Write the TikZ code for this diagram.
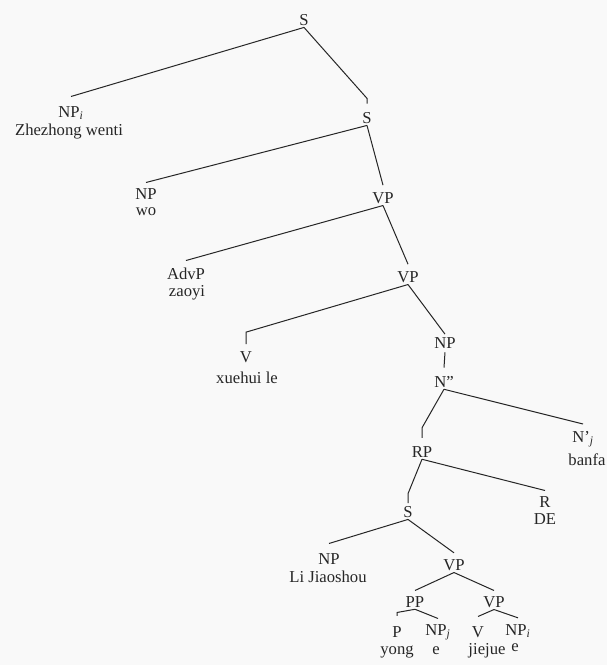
\documentclass[tikz,border=0pt]{standalone}
\usepackage{fontspec}
\setmainfont{Liberation Serif}
\definecolor{ink}{HTML}{262626}
\definecolor{paper}{HTML}{F9F9F9}
\begin{document}
\begin{tikzpicture}[x=0.75pt,y=-0.75pt,
  cat/.style={inner sep=0pt,anchor=base,text=ink,font=\fontsize{12.5}{15}\selectfont},
  word/.style={inner sep=0pt,anchor=base,text=ink,font=\fontsize{12.5}{15}\selectfont},
  br/.style={draw=ink,line width=0.75pt}]
\fill[paper] (0,0) rectangle (607,665);
\useasboundingbox (0,0) rectangle (607,665);
% nodes
\node[cat] (S1) at (304,25) {S};
\node[cat] (NPi) at (71,117) {NP\textsubscript{\itshape i}};
\node[word] (w1) at (69,135) {Zhezhong wenti};
\node[cat] (S2) at (367,123) {S};
\node[cat] (NPwo) at (146,199) {NP};
\node[word] (w2) at (146,215) {wo};
\node[cat] (VP1) at (383,203) {VP};
\node[cat] (AdvP) at (186,279) {AdvP};
\node[word] (w3) at (187,296) {zaoyi};
\node[cat] (VP2) at (408,282) {VP};
\node[cat] (V1) at (246,362) {V};
\node[word] (w4) at (247,383) {xuehui le};
\node[cat] (NPa) at (445,348) {NP};
\node[cat] (Npp) at (444,387) {N''};
\node[cat] (Nj) at (583,442) {N'\textsubscript{\itshape j}};
\node[word] (w5) at (587,465) {banfa};
\node[cat] (RP) at (422,457) {RP};
\node[cat] (R) at (545,507) {R};
\node[word] (w6) at (545,524) {DE};
\node[cat] (S3) at (408,517) {S};
\node[cat] (NPl) at (329,564) {NP};
\node[word] (w7) at (328,582) {Li Jiaoshou};
\node[cat] (VP3) at (454,570) {VP};
\node[cat] (PP) at (415,607) {PP};
\node[cat] (VP4) at (494,607) {VP};
\node[cat] (P) at (397,637) {P};
\node[word] (w8) at (397,654) {yong};
\node[cat] (NPj) at (438,635) {NP\textsubscript{\itshape j}};
\node[word] (w9) at (436,654) {e};
\node[cat] (V2) at (478,637) {V};
\node[word] (w10) at (487,654) {jiejue};
\node[cat] (NPi2) at (518,635) {NP\textsubscript{\itshape i}};
\node[word] (w11) at (515,651) {e};
% branches
\draw[br] ([yshift=-1.5pt]S1.south) -- ([yshift=7pt]NPi.north);
\draw[br] ([yshift=-1.5pt]S1.south) -- ([yshift=10pt]S2.north) -- ([yshift=6pt]S2.north);
\draw[br] ([yshift=-1.5pt]S2.south) -- ([yshift=4pt]NPwo.north);
\draw[br] ([yshift=-1.5pt]S2.south) -- ([yshift=5pt]VP1.north);
\draw[br] ([yshift=-1.5pt]VP1.south) -- ([yshift=5pt]AdvP.north);
\draw[br] ([yshift=-1.5pt]VP1.south) -- ([yshift=5pt]VP2.north);
\draw[br] ([yshift=-1.5pt]VP2.south) -- ([yshift=14pt]V1.north) -- ([yshift=5pt]V1.north);
\draw[br] ([yshift=-1.5pt]VP2.south) -- ([yshift=2pt]NPa.north);
\draw[br] ([yshift=-3pt]NPa.south) -- ([yshift=6pt]Npp.north);
\draw[br] ([yshift=-1.5pt]Npp.south) -- ([yshift=5pt]Nj.north);
\draw[br] ([yshift=-1.5pt]Npp.south) -- ([yshift=13.5pt]RP.north) -- ([yshift=6pt]RP.north);
\draw[br] ([yshift=-1.5pt]RP.south) -- ([yshift=4pt]R.north);
\draw[br] ([yshift=-1.5pt]RP.south) -- ([yshift=9pt]S3.north) -- ([yshift=2pt]S3.north);
\draw[br] ([yshift=-1.5pt]S3.south) -- ([yshift=7pt]NPl.north);
\draw[br] ([yshift=-1.5pt]S3.south) -- ([yshift=4.5pt]VP3.north);
\draw[br] ([yshift=-1.5pt]VP3.south) -- ([yshift=4pt]PP.north);
\draw[br] ([yshift=-1.5pt]VP3.south) -- ([yshift=4pt]VP4.north);
\draw[br] ([yshift=-1.5pt]PP.south) -- ([yshift=10pt]P.north) -- ([yshift=7.5pt]P.north);
\draw[br] ([yshift=-1.5pt]PP.south) -- ([yshift=4pt]NPj.north);
\draw[br] ([yshift=-1.5pt]VP4.south) -- ([yshift=7pt]V2.north);
\draw[br] ([yshift=-1.5pt]VP4.south) -- ([yshift=4.5pt]NPi2.north);
\end{tikzpicture}
\end{document}
